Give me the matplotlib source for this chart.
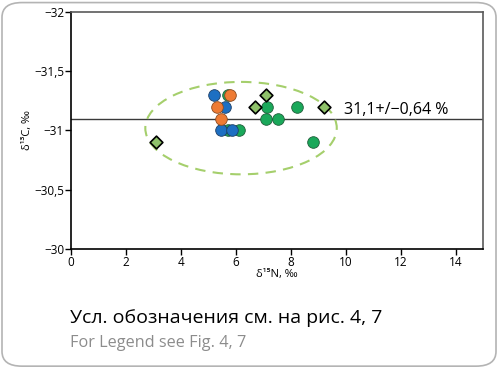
import matplotlib.pyplot as plt
from matplotlib.patches import Ellipse, FancyBboxPatch
from matplotlib.ticker import FuncFormatter

plt.rcParams['font.family'] = ['Open Sans', 'DejaVu Sans']

# data
blue_x = [5.22, 5.62, 5.45, 5.85]
blue_y = [-31.3, -31.2, -31.0, -31.0]
orange_x = [5.8, 5.32, 5.46]
orange_y = [-31.3, -31.2, -31.1]
green_x = [5.7, 5.7, 6.1, 7.14, 7.1, 7.53, 8.21, 8.82]
green_y = [-31.3, -31.0, -31.0, -31.2, -31.1, -31.1, -31.2, -30.9]
diamond_x = [3.1, 6.69, 7.1, 9.22]
diamond_y = [-30.9, -31.2, -31.3, -31.2]

mean_value = -31.1
mean_label = "31,1+/\u22120,64 %"
ellipse_center = (6.19, -31.02)
ellipse_size = (6.97, 0.78)

x_ticks = [0, 2, 4, 6, 8, 10, 12, 14]
y_ticks = [-32, -31.5, -31, -30.5, -30]

fig = plt.figure(figsize=(4.99, 3.68), dpi=100)

# rounded frame around the whole figure
frame = FancyBboxPatch((0.004, 0.005), 0.99, 0.988, boxstyle="round,pad=0,rounding_size=0.04",
                       transform=fig.transFigure, fill=False, edgecolor='#b4b4b4', linewidth=1.2)
fig.patches.append(frame)

ax = fig.add_axes([0.1423, 0.3234, 0.8257, 0.644])

ax.axhline(mean_value, color='#3a3a3a', linewidth=1.0, zorder=1)
ax.add_patch(Ellipse(ellipse_center, ellipse_size[0], ellipse_size[1], fill=False,
                     edgecolor='#a5cf6c', linestyle=(0, (5, 3.5)), linewidth=1.5, zorder=2))

ax.scatter(green_x, green_y, s=70, color='#1aa85a', edgecolor='#1f5e3a', linewidth=0.6, zorder=3)
ax.scatter(blue_x, blue_y, s=70, color='#1d6fc2', edgecolor='#1e3f66', linewidth=0.6, zorder=4)
ax.scatter(orange_x, orange_y, s=70, color='#ee7b34', edgecolor='#8a4a20', linewidth=0.6, zorder=5)
ax.scatter(diamond_x, diamond_y, s=42, marker='D', color='#8fc26a', edgecolor='black',
           linewidth=1.2, zorder=6)

ax.text(9.95, mean_value - 0.005, mean_label, fontsize=11.5, color='black', ha='left', va='bottom')

ax.set_xlim(0, 15)
ax.set_ylim(-30, -32)
ax.set_xticks(x_ticks)
ax.set_yticks(y_ticks)


def comma_fmt(v, pos):
    s = ('%g' % v).replace('.', ',').replace('-', '\u2212')
    return s


ax.yaxis.set_major_formatter(FuncFormatter(comma_fmt))
ax.tick_params(labelsize=8.5, length=4, width=1, pad=1)

for side in ['left', 'bottom']:
    ax.spines[side].set_color('black')
    ax.spines[side].set_linewidth(1.2)
for side in ['top', 'right']:
    ax.spines[side].set_color('#5a5a5a')
    ax.spines[side].set_linewidth(1.2)

ax.set_xlabel("\u03b4\u00b9\u2075N, \u2030", fontsize=8, labelpad=0)
ax.set_ylabel("\u03b4\u00b9\u00b3C, \u2030", fontsize=8, labelpad=1)

fig.text(0.14, 0.135, "Усл. обозначения см. на рис. 4, 7", fontsize=14, color='black', va='center')
fig.text(0.14, 0.067, "For Legend see Fig. 4, 7", fontsize=11.7, color='#8c8c8c', va='center')

fig.savefig('out.png', dpi=100)
